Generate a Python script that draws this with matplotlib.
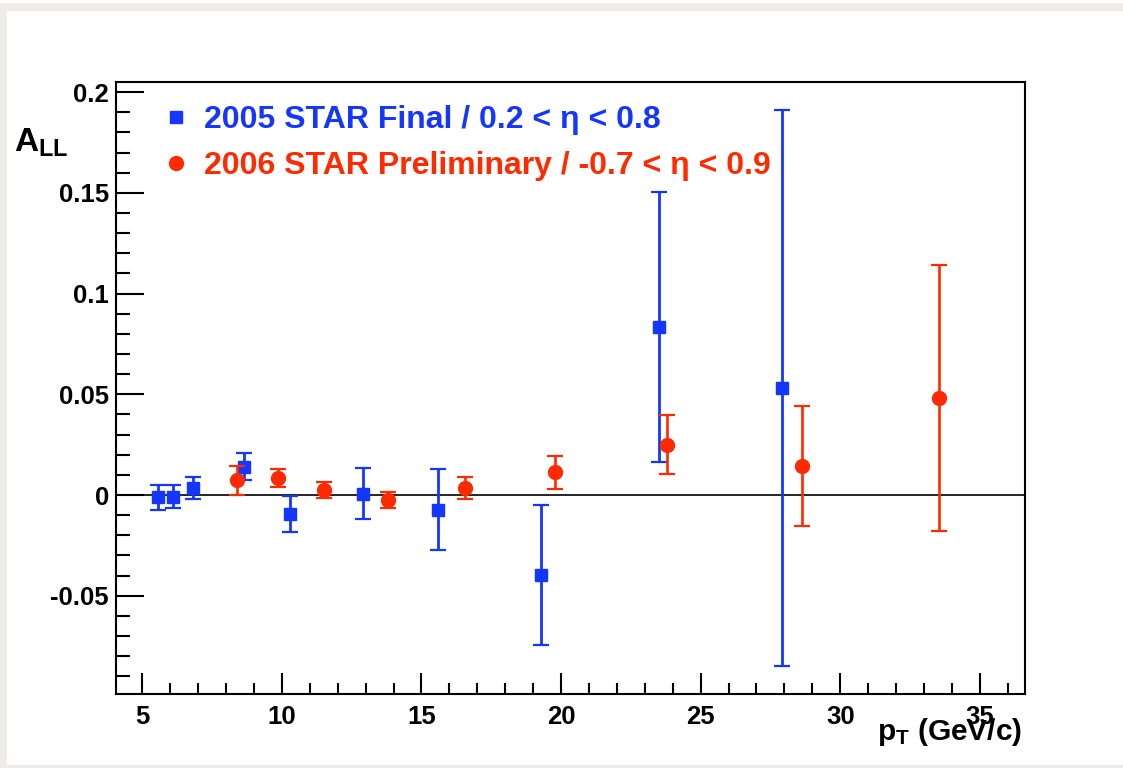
import matplotlib
matplotlib.use("Agg")
import matplotlib.pyplot as plt
from matplotlib.lines import Line2D
from matplotlib.patches import Rectangle
from matplotlib.ticker import MultipleLocator, FuncFormatter

# 2005 STAR final, 0.2 < eta < 0.8
pt_2005 = [5.55, 6.09, 6.80, 8.65, 10.29, 12.89, 15.60, 19.29, 23.50, 27.92]
all_2005 = [-0.0012, -0.0008, 0.0035, 0.0140, -0.0095, 0.0007, -0.0073, -0.0397, 0.0833, 0.0530]
err_2005 = [0.0060, 0.0056, 0.0056, 0.0067, 0.0090, 0.0126, 0.0202, 0.0349, 0.0671, 0.1380]

# 2006 STAR preliminary, -0.7 < eta < 0.9
pt_2006 = [8.38, 9.85, 11.52, 13.81, 16.56, 19.77, 23.79, 28.64, 33.55]
all_2006 = [0.0073, 0.0086, 0.0024, -0.0025, 0.0035, 0.0113, 0.0250, 0.0145, 0.0482]
err_2006 = [0.0073, 0.0045, 0.0041, 0.0040, 0.0053, 0.0082, 0.0146, 0.0299, 0.0660]

label_2005 = "2005 STAR Final / 0.2 < \u03b7 < 0.8"
label_2006 = "2006 STAR Preliminary / -0.7 < \u03b7 < 0.9"

BLUE = "#1436ff"
RED = "#ff2a00"

plt.rcParams["font.family"] = ["Liberation Sans", "DejaVu Sans"]
plt.rcParams["font.weight"] = "bold"
plt.rcParams["mathtext.fontset"] = "custom"
plt.rcParams["mathtext.rm"] = "Liberation Sans:bold"
plt.rcParams["mathtext.it"] = "Liberation Sans:bold"
plt.rcParams["mathtext.bf"] = "Liberation Sans:bold"

W, H = 1123, 768
fig = plt.figure(figsize=(W / 100, H / 100), dpi=100)
fig.patch.set_facecolor("white")

# light grey page border
grey = "#f0ece9"
fig.patches.append(Rectangle((0, 1 - 11 / H), 1, 8 / H, transform=fig.transFigure,
                             facecolor=grey, edgecolor="none"))
fig.patches.append(Rectangle((0, 0), 7 / W, 1 - 11 / H, transform=fig.transFigure,
                             facecolor=grey, edgecolor="none"))
fig.patches.append(Rectangle((0, 0), 1, 3 / H, transform=fig.transFigure,
                             facecolor=grey, edgecolor="none"))

ax = fig.add_axes([116 / W, 1 - 694.3 / H, (1024.5 - 116) / W, (694.3 - 82) / H])
ax.set_xlim(4.058, 36.60)
ax.set_ylim(-0.0989, 0.2050)

ax.axhline(0, color="black", lw=1.2, zorder=1)

ax.errorbar(pt_2005, all_2005, yerr=err_2005, fmt="s", color=BLUE, ms=9.2,
            elinewidth=2.0, capsize=6, capthick=1.6, zorder=3)
ax.errorbar(pt_2006, all_2006, yerr=err_2006, fmt="o", color=RED, ms=10,
            elinewidth=1.9, capsize=5.5, capthick=1.6, zorder=4)

for s in ax.spines.values():
    s.set_linewidth(1.5)
ax.xaxis.set_major_locator(MultipleLocator(5))
ax.xaxis.set_minor_locator(MultipleLocator(1))
ax.yaxis.set_major_locator(MultipleLocator(0.05))
ax.yaxis.set_minor_locator(MultipleLocator(0.01))
ax.tick_params(axis="x", which="major", direction="in", length=15, width=1.5,
               labelsize=18.5, pad=8)
ax.tick_params(axis="x", which="minor", direction="in", length=8, width=1.5)
ax.tick_params(axis="y", which="major", direction="in", length=20, width=1.5,
               labelsize=18.5, pad=5)
ax.tick_params(axis="y", which="minor", direction="in", length=10, width=1.5)
ax.xaxis.set_major_formatter(FuncFormatter(lambda v, p: "%g" % v))
ax.yaxis.set_major_formatter(FuncFormatter(lambda v, p: "%g" % round(v, 3)))

handles = [Line2D([], [], ls="none", marker="s", ms=9.2, color=BLUE),
           Line2D([], [], ls="none", marker="o", ms=10, color=RED)]
leg = ax.legend(handles, [label_2005, label_2006], loc="upper left",
                bbox_to_anchor=(0.049, 0.962), frameon=False, fontsize=23,
                handlelength=0.95, handletextpad=0.4, labelspacing=0.5,
                borderpad=0, borderaxespad=0)
for txt, c in zip(leg.get_texts(), [BLUE, RED]):
    txt.set_color(c)

fig.text(14 / W, 1 - 152 / H, r"$A_{LL}$", fontsize=24, ha="left", va="baseline")
fig.text(1022 / W, 1 - 740 / H, r"$p_{T}$ (GeV/c)", fontsize=21.5, ha="right",
         va="baseline")

fig.savefig("out.png", dpi=100)
